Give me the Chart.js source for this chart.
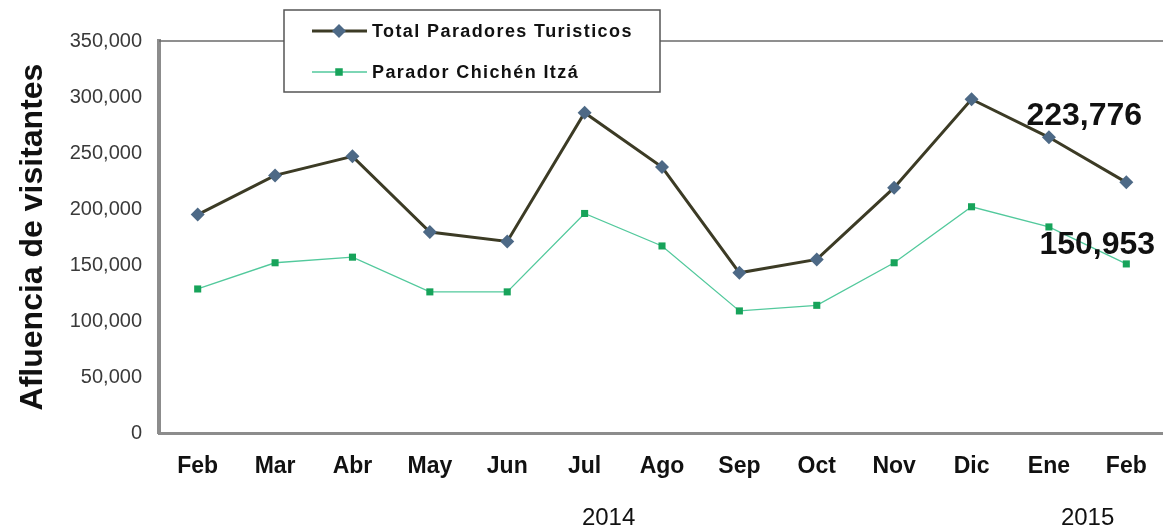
<!DOCTYPE html>
<html>
<head>
<meta charset="utf-8">
<script src="https://cdn.jsdelivr.net/npm/chart.js@4"></script>
<style>
    html, body { margin: 0; padding: 0; background: #fff; overflow: hidden; }
    /* a bit wider than the window: the plot runs off the right edge like the original */
    #wrap { width: 1172px; height: 532px; }
</style>
</head>
<body>
<div id="wrap"><canvas id="myChart"></canvas></div>
<script>
// months shown on the x axis
var months = ["Feb", "Mar", "Abr", "May", "Jun", "Jul", "Ago", "Sep", "Oct", "Nov", "Dic", "Ene", "Feb"];
// year groups: label and index range of months
var years = [
    { label: "2014", first: 0, last: 10 },
    { label: "2015", first: 11, last: 12 }
];

var total_paradores = [195000, 230000, 247000, 179500, 171000, 286000, 237500, 143000, 155000, 219000, 298000, 264000, 223776];
var chichen_itza = [128600, 152000, 157000, 126000, 126000, 196000, 167000, 109000, 114000, 152000, 202000, 184000, 150953];

var y_ticks_max = 350000;
var y_ticks_step = 50000;

var font_family = "'Liberation Sans', Arial, sans-serif";

function fmt(v) {
    return v.toLocaleString("en-US");
}

// draws top border, legend box, year labels and the last-value labels
var extras = {
    id: "extras",
    afterDatasetsDraw: function(chart) {
        var ctx = chart.ctx;
        var area = chart.chartArea;
        var xs = chart.scales.x;

        ctx.save();
        // top border of the plot
        ctx.strokeStyle = "#6a6a6a";
        ctx.lineWidth = 1.5;
        ctx.beginPath();
        ctx.moveTo(area.left, area.top);
        ctx.lineTo(area.right, area.top);
        ctx.stroke();

        // year labels
        ctx.fillStyle = "#111";
        ctx.font = "24px " + font_family;
        ctx.textAlign = "center";
        ctx.textBaseline = "middle";
        for (var i = 0; i < years.length; i++) {
            var x = (xs.getPixelForValue(years[i].first) + xs.getPixelForValue(years[i].last)) / 2;
            if (i == 0) x += 24;
            ctx.fillText(years[i].label, x, 518);
        }

        // value labels at the last point
        var last = months.length - 1;
        ctx.font = "bold 32px " + font_family;
        var m0 = chart.getDatasetMeta(0).data[last];
        var m1 = chart.getDatasetMeta(1).data[last];
        ctx.fillText(fmt(total_paradores[last]), m0.x - 42, m0.y - 66);
        ctx.fillText(fmt(chichen_itza[last]), m1.x - 29, m1.y - 19);

        // legend
        ctx.fillStyle = "#fff";
        ctx.fillRect(284, 10, 376, 82);
        ctx.strokeStyle = "#555";
        ctx.lineWidth = 1.5;
        ctx.strokeRect(284, 10, 376, 82);
        var rows = [31, 72];
        ctx.textAlign = "left";
        ctx.font = "bold 18px " + font_family;
        ctx.letterSpacing = "1.4px";
        chart.data.datasets.forEach(function(ds, k) {
            var ry = rows[k];
            ctx.strokeStyle = ds.borderColor;
            ctx.lineWidth = ds.borderWidth;
            ctx.beginPath();
            ctx.moveTo(312, ry);
            ctx.lineTo(367, ry);
            ctx.stroke();
            ctx.fillStyle = ds.pointBackgroundColor;
            var r = ds.pointRadius;
            ctx.beginPath();
            if (ds.pointStyle == "rectRot") {
                ctx.moveTo(339, ry - r);
                ctx.lineTo(339 + r, ry);
                ctx.lineTo(339, ry + r);
                ctx.lineTo(339 - r, ry);
                ctx.closePath();
            } else {
                ctx.rect(339 - r * 0.75, ry - r * 0.75, r * 1.5, r * 1.5);
            }
            ctx.fill();
            ctx.fillStyle = "#111";
            ctx.fillText(ds.label, 372, ry + 1);
        });
        ctx.restore();
    }
};

var ctx = document.getElementById("myChart").getContext("2d");
var myChart = new Chart(ctx, {
    type: "line",
    data: {
        labels: months,
        datasets: [{
                label: "Total Paradores Turisticos",
                data: total_paradores,
                borderColor: "#3c3b25",
                borderWidth: 3,
                pointStyle: "rectRot",
                pointRadius: 7,
                pointBackgroundColor: "#4d6986",
                pointBorderColor: "#4d6986",
                pointBorderWidth: 0,
                tension: 0
            },
            {
                label: "Parador Chichén Itzá",
                data: chichen_itza,
                borderColor: "#52c99c",
                borderWidth: 1.3,
                pointStyle: "rect",
                pointRadius: 5,
                pointBackgroundColor: "#17a35a",
                pointBorderColor: "#17a35a",
                pointBorderWidth: 0,
                tension: 0
            }
        ]
    },
    options: {
        responsive: true,
        maintainAspectRatio: false,
        animation: false,
        layout: { padding: { top: 41, right: 0, left: 0, bottom: 0 } },
        plugins: {
            legend: { display: false },
            tooltip: { enabled: false }
        },
        scales: {
            x: {
                offset: true,
                grid: { display: false, drawTicks: false },
                border: { display: true, color: "#8c8c8c", width: 3 },
                ticks: {
                    color: "#111",
                    padding: 20,
                    font: { family: font_family, size: 23, weight: "bold" }
                },
                afterFit: function(scale) {
                    scale.height = 99;
                    scale.paddingLeft = 0;
                    scale.paddingRight = 0;
                }
            },
            y: {
                min: 0,
                max: y_ticks_max,
                grid: { display: false, drawTicks: false },
                border: { display: true, color: "#8c8c8c", width: 4 },
                ticks: {
                    stepSize: y_ticks_step,
                    color: "#3a3a3a",
                    padding: 17,
                    font: { family: font_family, size: 20 },
                    callback: function(v) { return fmt(v); }
                },
                title: {
                    display: true,
                    text: "Afluencia de visitantes",
                    color: "#111",
                    padding: { top: 14, bottom: 0 },
                    font: { family: font_family, size: 32, weight: "bold" }
                },
                afterFit: function(scale) { scale.width = 159; }
            }
        }
    },
    plugins: [extras]
});
</script>
</body>
</html>
